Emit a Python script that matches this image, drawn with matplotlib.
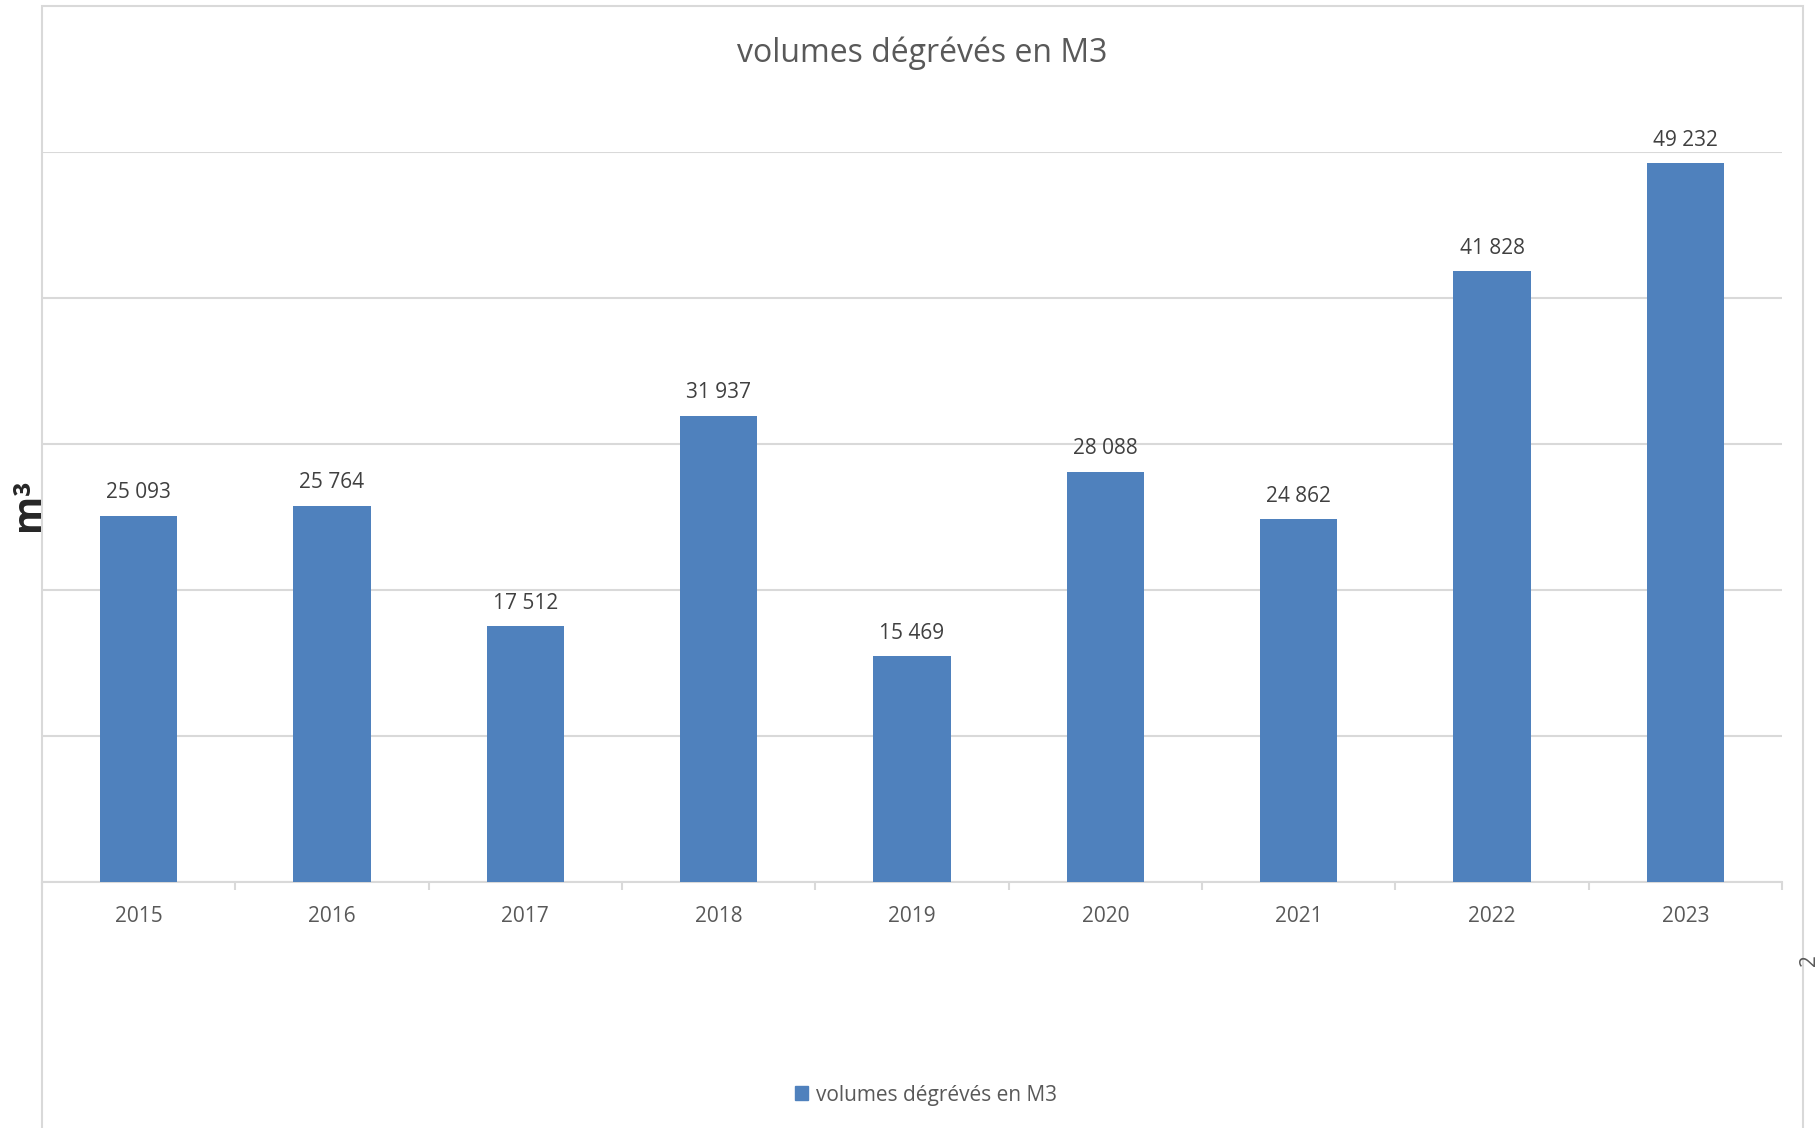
import matplotlib
matplotlib.use("Agg")
import matplotlib.pyplot as plt
from matplotlib.patches import Rectangle, Patch

plt.rcParams["font.family"] = ["Open Sans", "DejaVu Sans"]

YEARS = ["2015", "2016", "2017", "2018", "2019", "2020", "2021", "2022", "2023"]
VOLUMES = [25093, 25764, 17512, 31937, 15469, 28088, 24862, 41828, 49232]
TITLE = "volumes dégrévés en M3"
Y_LABEL = "m³"

W, H = 1818, 1128
BAR_COLOR = "#4F81BD"
GRID_COLOR = "#D9D9D9"
TEXT_COLOR = "#595959"
LABEL_COLOR = "#404040"


def fx(px):
    return px / W


def fy(py):
    return 1 - py / H


def main():
    fig = plt.figure(figsize=(W / 100, H / 100), dpi=100)

    # chart area border (bottom edge is cut off in the original)
    fig.patches.append(Rectangle((fx(42), -0.02), fx(1803 - 42), fy(6) + 0.02,
                                 transform=fig.transFigure, fill=False,
                                 edgecolor=GRID_COLOR, linewidth=1.5))

    ax = fig.add_axes([fx(42), fy(882), fx(1782 - 42), fy(152) - fy(882)])
    x = list(range(len(YEARS)))
    ax.bar(x, VOLUMES, width=0.4, color=BAR_COLOR, zorder=3)
    for xi, v in zip(x, VOLUMES):
        ax.annotate(f"{v:,}".replace(",", " "), (xi, v), xytext=(0, 23),
                    textcoords="offset pixels", ha="center", va="center",
                    fontsize=15, color=LABEL_COLOR, annotation_clip=False)

    ax.set_xlim(-0.5, len(YEARS) - 0.5)
    ax.set_ylim(0, 50000)
    ax.set_yticks(range(0, 50001, 10000))
    ax.yaxis.grid(True, color=GRID_COLOR, linewidth=1.5, zorder=0)
    ax.tick_params(axis="y", left=False, labelleft=False)

    ax.set_xticks(x)
    ax.set_xticklabels(YEARS, fontsize=15, color=TEXT_COLOR)
    ax.set_xticks([i - 0.5 for i in range(len(YEARS) + 1)], minor=True)
    ax.tick_params(axis="x", which="major", length=0, pad=17)
    ax.tick_params(axis="x", which="minor", length=6, width=1.5, color=GRID_COLOR)

    for side in ["top", "right", "left"]:
        ax.spines[side].set_visible(False)
    ax.spines["bottom"].set_color(GRID_COLOR)
    ax.spines["bottom"].set_linewidth(1.5)
    ax.set_axisbelow(True)

    fig.text(fx(922), fy(53), TITLE, ha="center", va="center",
             fontsize=23, color=TEXT_COLOR)
    fig.text(fx(29), fy(505), Y_LABEL, ha="center", va="center", rotation=90,
             fontsize=28, fontweight="bold", color="#262626")
    # fragment at the right edge of the capture
    fig.text(fx(1809), fy(960), "2", ha="center", va="center", rotation=90,
             fontsize=15, color=TEXT_COLOR)

    fig.legend(handles=[Patch(color=BAR_COLOR, label=TITLE)], loc="center",
               bbox_to_anchor=(fx(926), fy(1095)), frameon=False, fontsize=15,
               handlelength=0.62, handleheight=0.62, handletextpad=0.35,
               labelcolor=TEXT_COLOR)

    fig.savefig("out.png", dpi=100)
    plt.close(fig)


if __name__ == "__main__":
    main()
